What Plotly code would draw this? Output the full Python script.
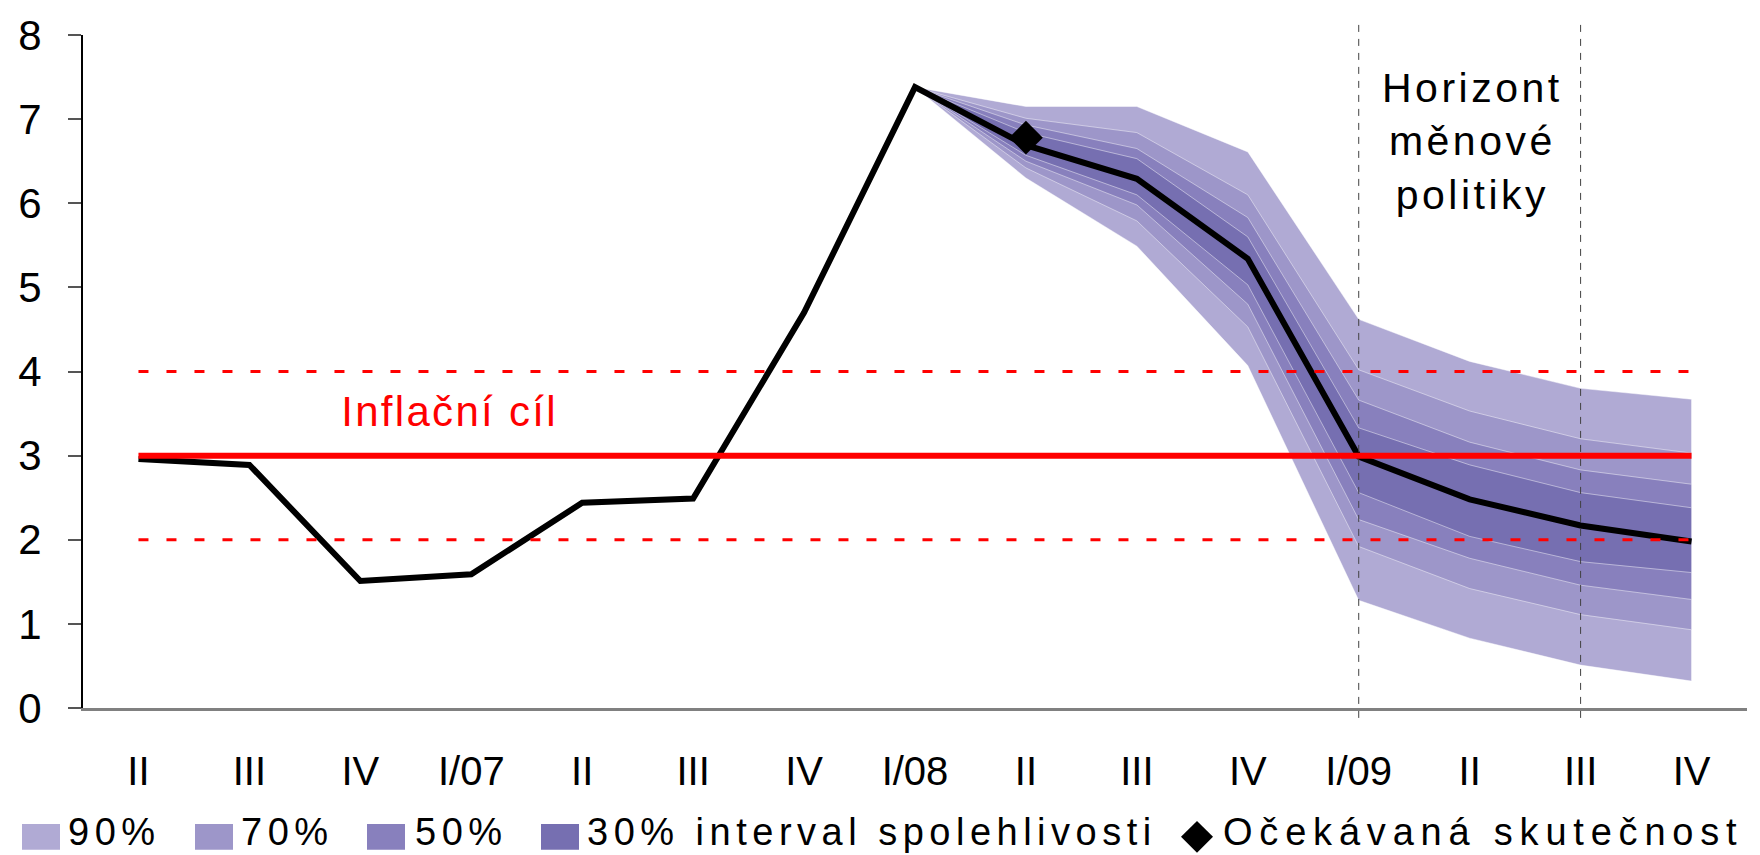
import plotly.graph_objects as go

# ---------------- data ----------------
categories = ["II", "III", "IV", "I/07", "II", "III", "IV", "I/08",
              "II", "III", "IV", "I/09", "II", "III", "IV"]
inflation = [2.96, 2.89, 1.51, 1.59, 2.44, 2.49, 4.70, 7.38,
             6.69, 6.29, 5.34, 2.99, 2.48, 2.17, 1.98]

fan_start = 7  # index of I/08, where the fan begins
band90_low = [7.38, 6.30, 5.49, 4.07, 1.28, 0.83, 0.51, 0.32]
band90_high = [7.38, 7.15, 7.15, 6.61, 4.62, 4.12, 3.80, 3.67]
band70_low = [7.38, 6.42, 5.79, 4.53, 1.92, 1.42, 1.11, 0.93]
band70_high = [7.38, 7.01, 6.84, 6.10, 4.02, 3.53, 3.20, 3.03]
band50_low = [7.38, 6.50, 5.98, 4.80, 2.24, 1.78, 1.46, 1.29]
band50_high = [7.38, 6.93, 6.65, 5.83, 3.66, 3.16, 2.83, 2.66]
band30_low = [7.38, 6.57, 6.10, 5.03, 2.56, 2.04, 1.74, 1.61]
band30_high = [7.38, 6.84, 6.53, 5.60, 3.33, 2.89, 2.56, 2.38]

expected_index = 8
expected_value = 6.78

target = 3.0
target_low = 2.0
target_high = 4.0

horizon_indices = [11, 13]  # I/09 and the following III

band_labels = ["90%", "70%", "50%", "30% interval spolehlivosti"]
band_colors = ["#B0AAD4", "#9D96C9", "#8880BD", "#766FB1"]
expected_label = "Očekávaná skutečnost"
target_label = "Inflační cíl"
horizon_label = "Horizont<br>měnové<br>politiky"

# ---------------- layout geometry ----------------
W, H = 1760, 855
ML, MR, MT, MB = 83, 13, 29, 147
PW, PH = W - ML - MR, H - MT - MB


def paper_x(px):
    return (px - ML) / PW


def paper_y(py):
    return (H - MB - py) / PH


FONT = "Arial, 'Liberation Sans', sans-serif"

x_all = list(range(len(categories)))
x_fan = x_all[fan_start:]

fig = go.Figure()

bands = [(band90_low, band90_high), (band70_low, band70_high),
         (band50_low, band50_high), (band30_low, band30_high)]
for (lo, hi), col, lab in zip(bands, band_colors, band_labels):
    fig.add_trace(go.Scatter(
        x=x_fan + x_fan[::-1],
        y=hi + lo[::-1],
        fill="toself", fillcolor=col,
        mode="lines", line=dict(color="rgba(255,255,255,0.45)", width=1),
        name=lab, showlegend=False, hoverinfo="skip",
    ))

# actual / forecast path
fig.add_trace(go.Scatter(
    x=x_all, y=inflation, mode="lines",
    line=dict(color="black", width=6), showlegend=False,
))

# tolerance band lines
for v in (target_high, target_low):
    fig.add_trace(go.Scatter(
        x=[x_all[0], x_all[-1]], y=[v, v], mode="lines",
        line=dict(color="#FF0000", width=3, dash="10px,18px"),
        showlegend=False,
    ))

# inflation target
fig.add_trace(go.Scatter(
    x=[x_all[0], x_all[-1]], y=[target, target], mode="lines",
    line=dict(color="#FF0000", width=6), showlegend=False,
))

# expected outcome
fig.add_trace(go.Scatter(
    x=[expected_index], y=[expected_value], mode="markers",
    marker=dict(symbol="diamond", size=26, color="black"),
    name=expected_label, showlegend=False,
))

shapes = []
for hx in horizon_indices:
    shapes.append(dict(type="line", xref="x", yref="paper",
                       x0=hx, x1=hx, y0=paper_y(718), y1=paper_y(17),
                       line=dict(color="#404040", width=1, dash="7px,7px")))

annotations = [
    dict(x=2.8, y=3.52, xref="x", yref="y", text=target_label,
         showarrow=False, font=dict(family=FONT, size=42, color="#FF0000")),
    dict(x=12.03, y=6.74, xref="x", yref="y", text=horizon_label,
         showarrow=False, font=dict(family=FONT, size=41, color="black")),
]
letter_spacing = [2.3, 3.5]

# manual legend along the bottom
sq_top, sq_bot = 825, 851
leg_bottom = paper_y(855)
legend_sq_x = [22, 195, 367, 541]
legend_txt_x = [67, 240, 414, 586]
for sx, tx, col, lab in zip(legend_sq_x, legend_txt_x, band_colors, band_labels):
    shapes.append(dict(type="rect", xref="paper", yref="paper",
                       x0=paper_x(sx), x1=paper_x(sx + 38),
                       y0=paper_y(sq_bot), y1=paper_y(sq_top),
                       fillcolor=col, line=dict(width=0)))
    annotations.append(dict(x=paper_x(tx), y=leg_bottom, xref="paper", yref="paper",
                            text=lab, showarrow=False, xanchor="left",
                            yanchor="bottom", align="left", borderpad=0,
                            font=dict(family=FONT, size=38, color="black")))
    letter_spacing.append(5.5)
# diamond legend symbol
dcx, dcy, dr = 1197, 838, 16
shapes.append(dict(
    type="path", xref="paper", yref="paper",
    path=(f"M {paper_x(dcx - dr)},{paper_y(dcy)} L {paper_x(dcx)},{paper_y(dcy - dr)} "
          f"L {paper_x(dcx + dr)},{paper_y(dcy)} L {paper_x(dcx)},{paper_y(dcy + dr)} Z"),
    fillcolor="black", line=dict(width=0)))
annotations.append(dict(x=paper_x(1222), y=leg_bottom, xref="paper", yref="paper",
                        text=expected_label, showarrow=False, xanchor="left",
                        yanchor="bottom", align="left", borderpad=0,
                        font=dict(family=FONT, size=38, color="black")))
letter_spacing.append(6.8)

fig.update_layout(
    width=W, height=H,
    margin=dict(l=ML, r=MR, t=MT, b=MB, pad=0),
    paper_bgcolor="white", plot_bgcolor="white",
    showlegend=False,
    shapes=shapes, annotations=annotations,
    font=dict(family=FONT, color="black"),
    xaxis=dict(
        range=[-0.5, len(categories) - 0.5],
        tickmode="array", tickvals=x_all, ticktext=categories,
        showgrid=False, zeroline=False,
        showline=True, linecolor="#808080", linewidth=3,
        ticks="", ticklabelstandoff=26,
        tickfont=dict(family=FONT, size=40, color="black"),
    ),
    yaxis=dict(
        range=[0, 8], tickmode="array", tickvals=list(range(0, 9)),
        showgrid=False, zeroline=False,
        showline=True, linecolor="black", linewidth=2,
        ticks="outside", ticklen=13, tickcolor="#555555", tickwidth=2,
        ticklabelstandoff=18,
        tickfont=dict(family=FONT, size=42, color="black"),
    ),
)

spacing_js = "[" + ",".join(str(s) for s in letter_spacing) + "]"
post = (
    "document.body.style.margin='0';document.body.style.overflow='hidden';"
    "var sp=" + spacing_js + ";"
    "document.querySelectorAll('text.annotation-text').forEach(function(t,i){"
    "if(sp[i]!==undefined){t.style.letterSpacing=sp[i]+'px';}});"
)

fig.write_html("out.html", config={"displayModeBar": False}, post_script=post)
